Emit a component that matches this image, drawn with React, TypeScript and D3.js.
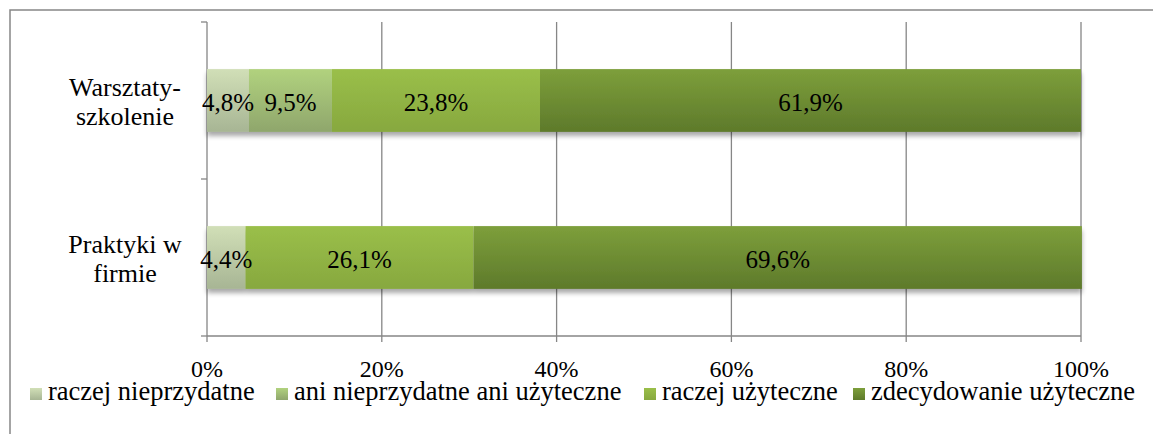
import React from 'react';
import * as d3 from 'd3';

// categories top to bottom, label split into lines
const categories = ['Warsztaty-szkolenie', 'Praktyki w firmie'];
const categoryLines = [['Warsztaty-', 'szkolenie'], ['Praktyki w', 'firmie']];

const seriesNames = [
  'raczej nieprzydatne',
  'ani nieprzydatne ani użyteczne',
  'raczej użyteczne',
  'zdecydowanie użyteczne',
];

// values in percent per series, in category order
const raczejNieprzydatne = [4.8, 4.4];
const aniAni = [9.5, 0];
const raczejUzyteczne = [23.8, 26.1];
const zdecydowanieUzyteczne = [61.9, 69.6];

const xTicks = [0, 20, 40, 60, 80, 100];

// gradient top / bottom per series
const colorsTop = ['#d1dfb7', '#b1d27e', '#9abf49', '#7d9f3b'];
const colorsBottom = ['#a7b594', '#8fa66c', '#87a83f', '#5e7a2b'];
const legendX = [30, 276, 644, 853];

const W = 1153;
const H = 434;
const margin = { top: 22, right: 72, bottom: 98, left: 207 };
const fmt = (v: number) => v.toFixed(1).replace('.', ',') + '%';

const serif = "'Liberation Serif', 'DejaVu Serif', serif";
const st = (size: number): React.CSSProperties => ({ fontFamily: serif, fontSize: `${size}px` });

export default function App() {
  const values = [raczejNieprzydatne, aniAni, raczejUzyteczne, zdecydowanieUzyteczne];
  const innerW = W - margin.left - margin.right;
  const innerH = H - margin.top - margin.bottom;

  const x = d3.scaleLinear().domain([0, 100]).range([0, innerW]);
  const y = d3.scaleBand().domain(categories).range([0, innerH]).paddingInner(0.6).paddingOuter(0.3);
  const band = d3.scaleBand().domain(categories).range([0, innerH]);

  const rows = categories.map((c, ci) => {
    let acc = 0;
    return values.map((arr, si) => {
      const v = arr[ci];
      const seg = { si, v, x0: acc, x1: acc + v };
      acc += v;
      return seg;
    });
  });

  const grey = '#868686';

  return (
    <svg width={W} height={H} style={{ position: 'absolute', left: 0, top: 0, display: 'block' }}>
      <defs>
        {colorsTop.map((c, i) => (
          <linearGradient key={i} id={`g${i}`} x1="0" y1="0" x2="0" y2="1">
            <stop offset="0%" stopColor={c} />
            <stop offset="100%" stopColor={colorsBottom[i]} />
          </linearGradient>
        ))}
        <filter id="shadow" x="-5%" y="-20%" width="110%" height="160%">
          <feGaussianBlur in="SourceAlpha" stdDeviation="2.5" />
          <feOffset dx="0" dy="4" result="b" />
          <feComponentTransfer>
            <feFuncA type="linear" slope="0.35" />
          </feComponentTransfer>
          <feMerge>
            <feMergeNode />
            <feMergeNode in="SourceGraphic" />
          </feMerge>
        </filter>
      </defs>
      <rect x={0} y={0} width={W} height={H} fill="#fff" />
      <rect x={10} y={10} width={W + 20} height={H + 20} fill="none" stroke={grey} strokeWidth={1.5} />

      <g transform={`translate(${margin.left},${margin.top})`}>
        {xTicks.map((t) => (
          <line key={t} x1={x(t)} x2={x(t)} y1={0} y2={innerH + 6} stroke={grey} strokeWidth={1.3} />
        ))}
        <line x1={0} x2={innerW} y1={innerH} y2={innerH} stroke={grey} strokeWidth={1.3} />
        {[0, ...categories.map((c) => band(c)! + band.bandwidth())].map((yy, i) => (
          <line key={i} x1={-6} x2={0} y1={yy} y2={yy} stroke={grey} strokeWidth={1.3} />
        ))}

        {rows.map((segs, ci) => (
          <g key={ci} filter="url(#shadow)">
            {segs.filter((s) => s.v > 0).map((s) => (
              <rect
                key={s.si}
                x={x(s.x0)}
                y={y(categories[ci])!}
                width={x(s.x1) - x(s.x0)}
                height={y.bandwidth()}
                fill={`url(#g${s.si})`}
              />
            ))}
          </g>
        ))}

        {rows.map((segs, ci) =>
          segs.filter((s) => s.v > 0).map((s) => (
            <text
              key={`${ci}-${s.si}`}
              x={x((s.x0 + s.x1) / 2)}
              y={y(categories[ci])! + y.bandwidth() / 2 + 10}
              textAnchor="middle"
              style={st(25)}
              fill="#000"
            >
              {fmt(s.v)}
            </text>
          ))
        )}

        {categories.map((c, ci) => {
          const cy = band(c)! + band.bandwidth() / 2;
          return categoryLines[ci].map((line, li) => (
            <text key={`${ci}-${li}`} x={-82} y={cy - 5 + li * 29} textAnchor="middle" style={st(26)} fill="#000">
              {line}
            </text>
          ));
        })}

        {xTicks.map((t) => (
          <text key={t} x={x(t)} y={innerH + 41} textAnchor="middle" style={st(24)} fill="#000">
            {t}%
          </text>
        ))}
      </g>

      <g>
        {seriesNames.map((n, i) => (
          <g key={n} transform={`translate(${legendX[i]},388)`}>
            <rect x={0} y={0} width={12} height={12} fill={`url(#g${i})`} />
            <text x={18} y={12} style={st(26.5)} fill="#000">
              {n}
            </text>
          </g>
        ))}
      </g>
    </svg>
  );
}
